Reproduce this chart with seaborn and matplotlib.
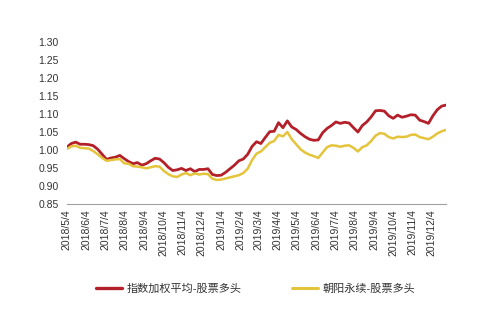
import matplotlib
matplotlib.use("Agg")
import matplotlib.pyplot as plt
import matplotlib.dates as mdates
import numpy as np
import pandas as pd
import seaborn as sns

# ---- data ----
start_date = "2018-05-04"
n_weeks = 87
series_names = ["指数加权平均-股票多头", "朝阳永续-股票多头"]
red_values = [1.008, 1.018, 1.022, 1.016, 1.016, 1.015, 1.012, 1.002, 0.988, 0.974,
              0.978, 0.980, 0.985, 0.976, 0.968, 0.962, 0.965, 0.958, 0.962, 0.970,
              0.977, 0.975, 0.965, 0.952, 0.943, 0.945, 0.949, 0.943, 0.948, 0.940,
              0.946, 0.946, 0.948, 0.932, 0.929, 0.930, 0.938, 0.948, 0.958, 0.970,
              0.975, 0.988, 1.010, 1.023, 1.018, 1.035, 1.051, 1.052, 1.076, 1.062,
              1.081, 1.064, 1.057, 1.046, 1.037, 1.030, 1.027, 1.028, 1.048, 1.060,
              1.068, 1.078, 1.074, 1.077, 1.075, 1.062, 1.050, 1.068, 1.078, 1.092,
              1.109, 1.110, 1.108, 1.095, 1.088, 1.097, 1.091, 1.094, 1.098, 1.097,
              1.083, 1.079, 1.074, 1.095, 1.112, 1.122, 1.125]
yellow_values = [1.003, 1.010, 1.012, 1.006, 1.005, 1.004, 0.997, 0.988, 0.978, 0.970,
                 0.972, 0.974, 0.975, 0.963, 0.962, 0.955, 0.954, 0.952, 0.949, 0.952,
                 0.955, 0.954, 0.942, 0.933, 0.927, 0.925, 0.932, 0.936, 0.930, 0.935,
                 0.932, 0.934, 0.933, 0.920, 0.917, 0.918, 0.921, 0.924, 0.927, 0.930,
                 0.936, 0.948, 0.972, 0.990, 0.996, 1.008, 1.020, 1.025, 1.042, 1.038,
                 1.050, 1.030, 1.016, 1.002, 0.993, 0.987, 0.983, 0.978, 0.993, 1.008,
                 1.013, 1.012, 1.009, 1.012, 1.013, 1.006, 0.996, 1.008, 1.013, 1.025,
                 1.040, 1.047, 1.045, 1.036, 1.032, 1.037, 1.036, 1.037, 1.042, 1.043,
                 1.036, 1.033, 1.030, 1.037, 1.046, 1.052, 1.056]
tick_dates = ["2018-05-04", "2018-06-04", "2018-07-04", "2018-08-04", "2018-09-04",
              "2018-10-04", "2018-11-04", "2018-12-04", "2019-01-04", "2019-02-04",
              "2019-03-04", "2019-04-04", "2019-05-04", "2019-06-04", "2019-07-04",
              "2019-08-04", "2019-09-04", "2019-10-04", "2019-11-04", "2019-12-04"]
tick_labels = ["2018/5/4", "2018/6/4", "2018/7/4", "2018/8/4", "2018/9/4",
               "2018/10/4", "2018/11/4", "2018/12/4", "2019/1/4", "2019/2/4",
               "2019/3/4", "2019/4/4", "2019/5/4", "2019/6/4", "2019/7/4",
               "2019/8/4", "2019/9/4", "2019/10/4", "2019/11/4", "2019/12/4"]
y_ticks = [0.85, 0.90, 0.95, 1.00, 1.05, 1.10, 1.15, 1.20, 1.25, 1.30]
colors = ["#B3202A", "#E3C43A"]

dates = pd.date_range(start_date, periods=n_weeks, freq="7D")
df = pd.concat([
    pd.DataFrame({"date": dates, "value": red_values, "series": series_names[0]}),
    pd.DataFrame({"date": dates, "value": yellow_values, "series": series_names[1]}),
])

sns.set_style("white")
plt.rcParams["font.family"] = ["Liberation Sans", "Noto Sans CJK SC", "DejaVu Sans"]

fig = plt.figure(figsize=(4.99, 3.21), dpi=100)
ax = fig.add_axes([0.134, 0.3645, 0.760, 0.5045])

sns.lineplot(data=df, x="date", y="value", hue="series",
             palette=dict(zip(series_names, colors)), ax=ax, legend=True)
for line, lw in zip(ax.lines, [2.0, 1.8]):
    line.set_linewidth(lw)

ax.set_xlim(dates[0], dates[-1])
ax.set_ylim(0.85, 1.30)
ax.set_yticks(y_ticks)
ax.set_yticklabels([f"{v:.2f}" for v in y_ticks])
ax.set_xticks(pd.to_datetime(tick_dates))
ax.set_xticklabels(tick_labels, rotation=90, va="top", ha="center")
ax.tick_params(axis="both", length=0, labelsize=7.5, colors="#333333", pad=4)
ax.tick_params(axis="y", pad=6)
ax.set_xlabel("")
ax.set_ylabel("")
for s in ["top", "right", "left"]:
    ax.spines[s].set_visible(False)
ax.spines["bottom"].set_color("#A0A0A0")
ax.spines["bottom"].set_linewidth(0.8)
ax.grid(False)

handles, labels = ax.get_legend_handles_labels()
ax.legend_.remove()
for h, lw in zip(handles, [2.4, 2.2]):
    h.set_linewidth(lw)
fig.legend(handles, labels, loc="center", bbox_to_anchor=(0.512, 0.10), ncol=2,
           frameon=False, fontsize=8, handlelength=2.4, columnspacing=4.5,
           handletextpad=0.4, labelcolor="#333333")

fig.savefig("out.png", dpi=100, facecolor="white")
